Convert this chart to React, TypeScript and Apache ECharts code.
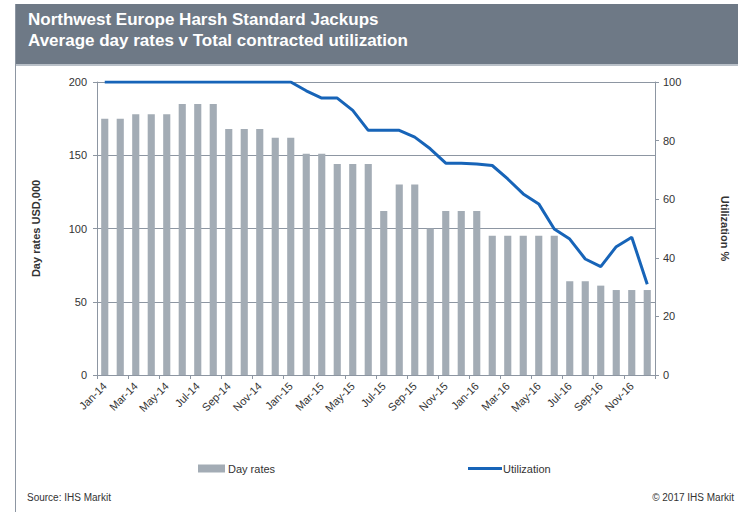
import React, { useEffect, useRef } from "react";
import * as echarts from "echarts";

const months = [
  "Jan-14","Feb-14","Mar-14","Apr-14","May-14","Jun-14","Jul-14","Aug-14","Sep-14","Oct-14","Nov-14","Dec-14",
  "Jan-15","Feb-15","Mar-15","Apr-15","May-15","Jun-15","Jul-15","Aug-15","Sep-15","Oct-15","Nov-15","Dec-15",
  "Jan-16","Feb-16","Mar-16","Apr-16","May-16","Jun-16","Jul-16","Aug-16","Sep-16","Oct-16","Nov-16","Dec-16",
];

const dayRates = [
  175, 175, 178, 178, 178, 185, 185, 185, 168, 168, 168, 162,
  162, 151, 151, 144, 144, 144, 112, 130, 130, 100, 112, 112,
  112, 95, 95, 95, 95, 95, 64, 64, 61, 58, 58, 58,
];

const utilization = [
  100, 100, 100, 100, 100, 100, 100, 100, 100, 100, 100, 100,
  100, 97, 94.5, 94.5, 90.3, 83.5, 83.5, 83.5, 81.2, 77.2, 72.3, 72.3,
  72, 71.5, 66.9, 61.8, 58.4, 49.8, 46.4, 39.6, 37, 43.8, 47, 31,
];

const leftTicks = { min: 0, max: 200, interval: 50 };
const rightTicks = { min: 0, max: 100, interval: 20 };

const FONT = "'Liberation Sans', Arial, sans-serif";

export default function App() {
  const ref = useRef<HTMLDivElement>(null);
  useEffect(() => {
    if (!ref.current) return;
    const chart = echarts.init(ref.current, null, { renderer: "svg" });
    chart.setOption({
      animation: false,
      backgroundColor: "#ffffff",
      textStyle: { fontFamily: FONT },
      graphic: [
        { type: "rect", left: 15, top: 4, shape: { width: 723, height: 60 }, style: { fill: "#6e7986" }, z: 0 },
        { type: "rect", left: 15, top: 64, shape: { width: 723, height: 2 }, style: { fill: "#b9c0c8" }, z: 0 },
        { type: "line", shape: { x1: 15.5, y1: 4, x2: 15.5, y2: 512 }, style: { stroke: "#8d96a2", lineWidth: 1 } },
        {
          type: "text", left: 28, top: 11,
          style: { text: "Northwest Europe Harsh Standard Jackups", fill: "#ffffff", font: `bold 17px ${FONT}` },
        },
        {
          type: "text", left: 28, top: 32,
          style: { text: "Average day rates v Total contracted utilization", fill: "#ffffff", font: `bold 17px ${FONT}` },
        },
        {
          type: "text", left: 27, top: 492,
          style: { text: "Source: IHS Markit", fill: "#333333", font: `10px ${FONT}` },
        },
        {
          type: "text", right: 4, top: 492,
          style: { text: "© 2017 IHS Markit", fill: "#333333", font: `10px ${FONT}` },
        },
      ],
      legend: [
        {
          data: ["Day rates"], left: 193, top: 458, itemWidth: 27, itemHeight: 8, icon: "rect", itemGap: 4,
          textStyle: { fontSize: 11, color: "#333333", fontFamily: FONT, padding: [0, 0, 0, -2] },
        },
        {
          data: ["Utilization"], left: 463, top: 458, itemWidth: 34, itemHeight: 3, icon: "rect",
          textStyle: { fontSize: 11, color: "#333333", fontFamily: FONT, padding: [0, 0, 0, -4] },
        },
      ],
      grid: { left: 97, right: 78, top: 82, bottom: 137, containLabel: false },
      xAxis: {
        type: "category",
        data: months,
        axisLine: { lineStyle: { color: "#8d96a2", width: 1 } },
        axisTick: { show: true, interval: 1, length: 4, lineStyle: { color: "#8d96a2" } },
        axisLabel: { interval: 1, rotate: 45, fontSize: 11, color: "#333333", margin: 9, fontFamily: FONT },
      },
      yAxis: [
        {
          type: "value", ...leftTicks,
          name: "Day rates USD,000", nameLocation: "middle", nameGap: 56, nameRotate: 90,
          nameTextStyle: { fontSize: 11, fontWeight: "bold", color: "#333333", fontFamily: FONT },
          axisLine: { show: true, lineStyle: { color: "#8d96a2" } },
          axisTick: { show: true, length: 4, lineStyle: { color: "#8d96a2" } },
          axisLabel: { fontSize: 11, color: "#333333", margin: 10, fontFamily: FONT },
          splitLine: { show: true, lineStyle: { color: "#8d96a2", width: 1 } },
        },
        {
          type: "value", ...rightTicks, position: "right",
          name: "Utilization %", nameLocation: "middle", nameGap: 64, nameRotate: -90,
          nameTextStyle: { fontSize: 11, fontWeight: "bold", color: "#333333", fontFamily: FONT },
          axisLine: { show: true, lineStyle: { color: "#8d96a2" } },
          axisTick: { show: true, length: 4, lineStyle: { color: "#8d96a2" } },
          axisLabel: { fontSize: 11, color: "#333333", margin: 8, fontFamily: FONT },
          splitLine: { show: false },
        },
      ],
      series: [
        {
          name: "Day rates", type: "bar", data: dayRates, yAxisIndex: 0,
          barWidth: "46%", itemStyle: { color: "#a3acb5" },
        },
        {
          name: "Utilization", type: "line", data: utilization, yAxisIndex: 1,
          symbol: "none", lineStyle: { color: "#1764b8", width: 3 }, itemStyle: { color: "#1764b8" },
        },
      ],
    });
    return () => chart.dispose();
  }, []);
  return <div ref={ref} style={{ position: "fixed", left: 0, top: 0, width: 738, height: 512 }} />;
}
